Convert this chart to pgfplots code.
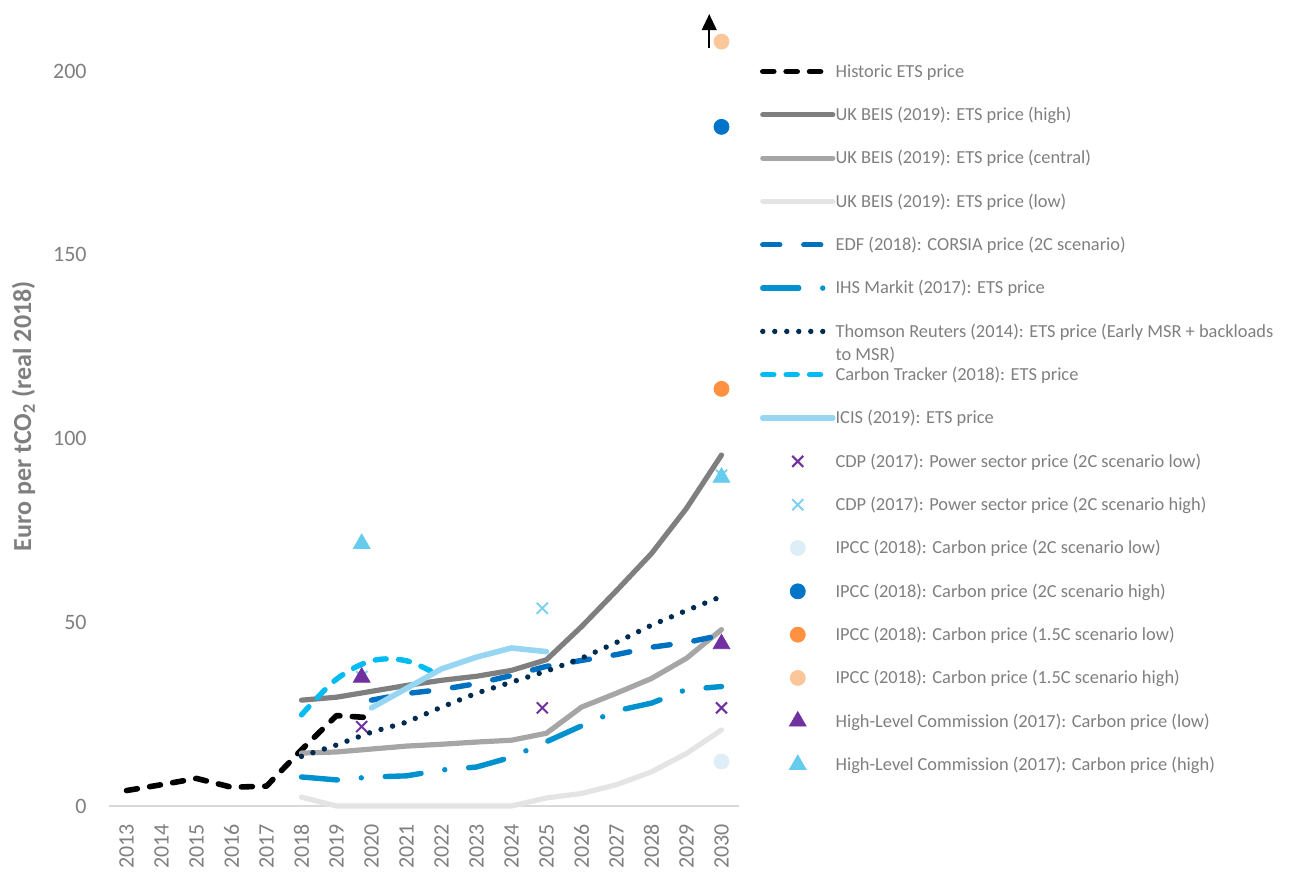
\documentclass[border=0pt]{standalone}
\usepackage{pgfplots}
\pgfplotsset{compat=1.18}
\usepackage{fontspec}
\setmainfont{Carlito}
\usetikzlibrary{arrows.meta}

\definecolor{txtgray}{HTML}{7F7F7F}
\definecolor{axgray}{HTML}{D9D9D9}
\definecolor{beishigh}{HTML}{7F7F7F}
\definecolor{beiscentral}{HTML}{A6A6A6}
\definecolor{beislow}{HTML}{E4E4E4}
\definecolor{edf}{HTML}{0070C0}
\definecolor{ihs}{HTML}{0091CF}
\definecolor{thomson}{HTML}{002B50}
\definecolor{ctracker}{HTML}{00BCF2}
\definecolor{icis}{HTML}{96D6F2}
\definecolor{cdplow}{HTML}{7030A0}
\definecolor{cdphigh}{HTML}{7DD0EF}
\definecolor{ipcctwolow}{HTML}{DDEEF8}
\definecolor{ipcctwohigh}{HTML}{0074C8}
\definecolor{ipcconelow}{HTML}{FF9140}
\definecolor{ipcconehigh}{HTML}{FBC79A}
\definecolor{hlclow}{HTML}{7030A0}
\definecolor{hlchigh}{HTML}{66CCEE}

\pgfplotsset{
  lineleg/.style={legend image code/.code={\draw[##1] (0pt,0pt) -- (35pt,0pt);}},
  markleg/.style={legend image code/.code={\path (0pt,0pt) (35pt,0pt); \draw[##1] plot coordinates {(17.5pt,0pt)};}},
}

\begin{document}
\begin{tikzpicture}
\useasboundingbox (-54.5pt,-33.5pt) rectangle (591.5pt,403pt);
\begin{axis}[
  at={(0pt,0pt)}, anchor=south west,
  scale only axis, width=315pt, height=396.9pt,
  xmin=2012.5, xmax=2030.5, ymin=0, ymax=216,
  clip=false,
  axis x line*=bottom, axis y line*=left,
  every non boxed x axis/.append style={x axis line style={-}},
  every non boxed y axis/.append style={y axis line style={-}},
  x axis line style={draw=axgray, line width=1pt},
  y axis line style={draw=none},
  major tick length=0pt,
  xtick={2013,2014,2015,2016,2017,2018,2019,2020,2021,2022,2023,2024,2025,2026,2027,2028,2029,2030},
  xticklabels={2013,2014,2015,2016,2017,2018,2019,2020,2021,2022,2023,2024,2025,2026,2027,2028,2029,2030},
  ytick={0,50,100,150,200},
  yticklabels={0,50,100,150,200},
  /pgf/number format/assume math mode=true,
  tick label style={font=\fontsize{11}{13}\selectfont, text=txtgray, inner sep=0pt},
  xticklabel style={rotate=90, anchor=east},
  xticklabel shift=9pt,
  yticklabel style={anchor=east},
  yticklabel shift=11pt,
  ylabel={Euro per tCO\textsubscript{2} (real 2018)},
  ylabel style={at={(axis description cs:-0.1357,0.491)}, anchor=center,
    font=\fontsize{13}{15}\selectfont\bfseries, text=txtgray},
  legend cell align=left,
  legend style={at={(axis description cs:1.0333,0.9394)}, anchor=north west,
    draw=none, fill=none, inner sep=0pt, outer sep=0pt,
    row sep=10.46pt, column sep=0pt,
    font=\fontsize{9.2}{11.5}\selectfont, text=txtgray,
    nodes={inner sep=0pt, text height=8.5pt, text depth=2.7pt}},
]

\addplot[lineleg, black, line width=2.8pt, line cap=round, line join=round,
  dash pattern=on 5.5pt off 6.2pt] coordinates {
  (2013,4.2) (2014,5.8) (2015,7.5) (2016,5.1) (2017,5.4) (2018,15.3) (2019,24.6) (2020,24.0)
};
\addlegendentry{Historic ETS price}

\addplot[lineleg, beishigh, line width=2.6pt, line cap=round, line join=round] coordinates {
  (2018,28.8) (2019,29.6) (2020,31.2) (2021,32.8) (2022,34.2) (2023,35.3) (2024,36.9)
  (2025,39.8) (2026,48.8) (2027,58.6) (2028,68.7) (2029,81.0) (2030,95.5)
};
\addlegendentry{UK BEIS (2019): ETS price (high)}

\addplot[lineleg, beiscentral, line width=2.6pt, line cap=round, line join=round] coordinates {
  (2018,14.4) (2019,14.7) (2020,15.5) (2021,16.3) (2022,16.8) (2023,17.4) (2024,17.9)
  (2025,19.8) (2026,26.9) (2027,30.7) (2028,34.7) (2029,40.2) (2030,48.0)
};
\addlegendentry{UK BEIS (2019): ETS price (central)}

\addplot[lineleg, beislow, line width=2.6pt, line cap=round, line join=round] coordinates {
  (2018,2.4) (2019,0) (2020,0) (2021,0) (2022,0) (2023,0) (2024,0)
  (2025,2.2) (2026,3.4) (2027,5.8) (2028,9.3) (2029,14.3) (2030,20.7)
};
\addlegendentry{UK BEIS (2019): ETS price (low)}

\addplot[lineleg, edf, line width=2.7pt, line cap=round, line join=round,
  dash pattern=on 8.5pt off 12pt] coordinates {
  (2020,28.8) (2021,30.6) (2022,31.7) (2023,33.3) (2024,35.5) (2025,38.0)
  (2026,39.6) (2027,41.2) (2028,43.2) (2029,44.5) (2030,46.5)
};
\addlegendentry{EDF (2018): CORSIA price (2C scenario)}

\addplot[lineleg, ihs, line width=2.7pt, line cap=round, line join=round,
  dash pattern=on 18pt off 12pt on 0pt off 12pt] coordinates {
  (2018,7.9) (2019,7.1) (2020,7.9) (2021,8.2) (2022,9.8) (2023,10.6) (2024,13.3)
  (2025,17.5) (2026,21.8) (2027,25.9) (2028,28.0) (2029,31.7) (2030,32.5)
};
\addlegendentry{IHS Markit (2017): ETS price}

\addplot[lineleg, thomson, line width=2.7pt, line cap=round, line join=round,
  dash pattern=on 0pt off 6pt] coordinates {
  (2018,13.5) (2019,16.6) (2020,20.1) (2021,22.8) (2022,26.9) (2023,30.7) (2024,33.7)
  (2025,36.7) (2026,40.2) (2027,44.5) (2028,49.2) (2029,53.2) (2030,57.0)
};
\addlegendentry{\parbox[t]{260pt}{Thomson Reuters (2014): ETS price (Early MSR + backloads\\to MSR)}}

\addplot[lineleg, ctracker, line width=2.7pt, line cap=round, line join=round, smooth, tension=0.55,
  dash pattern=on 5.5pt off 6.2pt] coordinates {
  (2018,24.8) (2019,34.5) (2020,39.5) (2021,39.5) (2022,35.2)
};
\addlegendentry{Carbon Tracker (2018): ETS price}

\addplot[lineleg, icis, line width=2.8pt, line cap=round, line join=round] coordinates {
  (2020,26.7) (2021,32.0) (2022,37.3) (2023,40.5) (2024,43.0) (2025,42.0)
};
\addlegendentry{ICIS (2019): ETS price}

\addplot[markleg, only marks, cdplow, mark=x, mark size=3.9pt, mark options={line width=1pt}] coordinates {
  (2019.72,21.6) (2024.88,26.7) (2030,26.7)
};
\addlegendentry{CDP (2017): Power sector price (2C scenario low)}

\addplot[markleg, only marks, cdphigh, mark=x, mark size=3.9pt, mark options={line width=1pt}] coordinates {
  (2019.72,35.2) (2024.88,53.8) (2030,90.0)
};
\addlegendentry{CDP (2017): Power sector price (2C scenario high)}

\addplot[markleg, only marks, ipcctwolow, mark=*, mark size=3.75pt] coordinates {
  (2030,12.1)
};
\addlegendentry{IPCC (2018): Carbon price (2C scenario low)}

\addplot[markleg, only marks, ipcctwohigh, mark=*, mark size=3.75pt] coordinates {
  (2030,184.8)
};
\addlegendentry{IPCC (2018): Carbon price (2C scenario high)}

\addplot[markleg, only marks, ipcconelow, mark=*, mark size=3.75pt] coordinates {
  (2030,113.5)
};
\addlegendentry{IPCC (2018): Carbon price (1.5C scenario low)}

\addplot[markleg, only marks, ipcconehigh, mark=*, mark size=3.75pt] coordinates {
  (2030,208.0)
};
\addlegendentry{IPCC (2018): Carbon price (1.5C scenario high)}

\addplot[markleg, only marks, hlclow, mark=triangle*, mark size=4.8pt] coordinates {
  (2019.72,35.0) (2030,44.1)
};
\addlegendentry{High-Level Commission (2017): Carbon price (low)}

\addplot[markleg, only marks, hlchigh, mark=triangle*, mark size=4.8pt] coordinates {
  (2019.72,71.4) (2030,89.4)
};
\addlegendentry{High-Level Commission (2017): Carbon price (high)}

\draw[black, line width=1pt, -{Triangle[length=8pt, width=7.3pt]}]
  (axis cs:2029.65,206.2) -- (axis cs:2029.65,215.5);

\end{axis}
\end{tikzpicture}
\end{document}
